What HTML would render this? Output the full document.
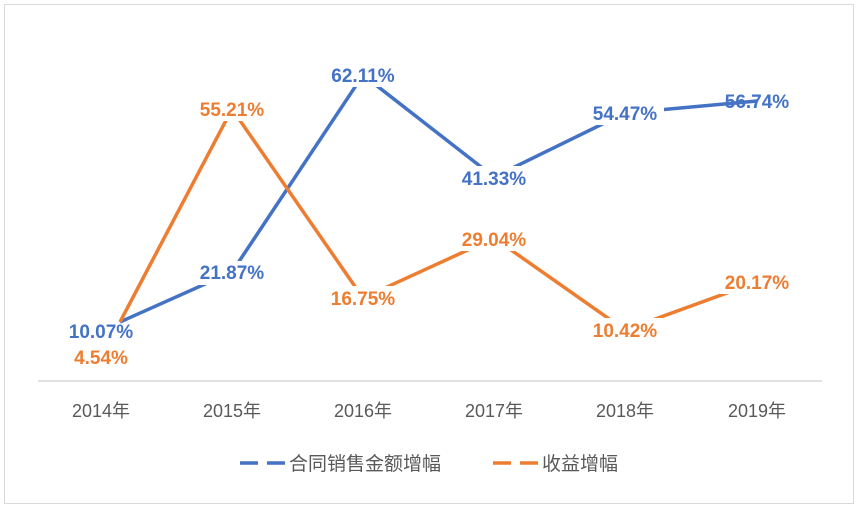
<!DOCTYPE html>
<html><head><meta charset="utf-8"><style>
body{margin:0;background:#fff}
svg text{font-family:"Liberation Sans","Noto Sans CJK SC",sans-serif}
</style></head><body>
<svg width="858" height="508" xmlns="http://www.w3.org/2000/svg">
<rect x="4.5" y="4.5" width="849" height="499" fill="#fff" stroke="#d9d9d9"/>
<line x1="38" y1="381" x2="822" y2="381" stroke="#d9d9d9" stroke-width="1.5"/>
<g font-size="18" fill="#595959" text-anchor="middle">
<text x="101" y="417">2014年</text><text x="232" y="417">2015年</text><text x="363" y="417">2016年</text>
<text x="494" y="417">2017年</text><text x="625" y="417">2018年</text><text x="757" y="417">2019年</text>
</g>
<polyline points="120,322 232,272 363,75 494,177 625,113 757,101" fill="none" stroke="#4472c4" stroke-width="3.5"/>
<polyline points="120,322 232,109 363,298 494,238 625,330 757,282" fill="none" stroke="#ed7d31" stroke-width="3.5"/>
<g fill="#fff">
<rect x="194" y="261" width="76" height="24"/>
<rect x="196" y="97" width="74" height="24"/>
<rect x="326" y="63" width="76" height="24"/>
<rect x="326" y="286" width="76" height="24"/>
<rect x="457" y="166" width="76" height="24"/>
<rect x="457" y="227" width="76" height="24"/>
<rect x="588" y="101" width="76" height="24"/>
<rect x="588" y="318" width="76" height="24"/>
<rect x="720" y="270" width="76" height="24"/>
</g>
<g font-size="19" font-weight="bold" text-anchor="middle">
<text x="101" y="338" fill="#4472c4">10.07%</text>
<text x="101" y="364" fill="#ed7d31">4.54%</text>
<text x="232" y="279" fill="#4472c4">21.87%</text>
<text x="232" y="116" fill="#ed7d31">55.21%</text>
<text x="363" y="82" fill="#4472c4">62.11%</text>
<text x="363" y="305" fill="#ed7d31">16.75%</text>
<text x="494" y="185" fill="#4472c4">41.33%</text>
<text x="494" y="246" fill="#ed7d31">29.04%</text>
<text x="625" y="120" fill="#4472c4">54.47%</text>
<text x="625" y="337" fill="#ed7d31">10.42%</text>
<text x="757" y="108" fill="#4472c4">56.74%</text>
<text x="757" y="289" fill="#ed7d31">20.17%</text>
</g>
<line x1="240" y1="463" x2="285" y2="463" stroke="#4472c4" stroke-width="3.5" stroke-dasharray="18,9"/>
<text x="289" y="470" font-size="19" fill="#595959">合同销售金额增幅</text>
<line x1="493" y1="463" x2="538" y2="463" stroke="#ed7d31" stroke-width="3.5" stroke-dasharray="18,9"/>
<text x="542" y="470" font-size="19" fill="#595959">收益增幅</text>
</svg>
</body></html>
